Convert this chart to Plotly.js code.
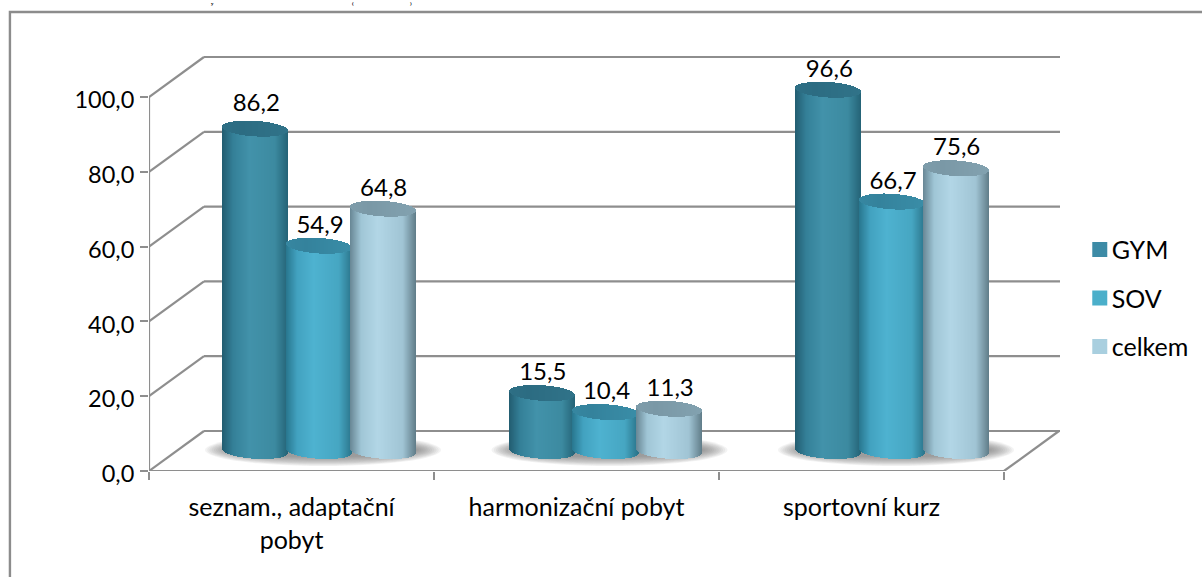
<!DOCTYPE html>
<html><head><meta charset="utf-8">
<script src="https://cdn.plot.ly/plotly-3.0.1.min.js"></script>
<style>html,body{margin:0;padding:0;background:#fff;overflow:hidden}#c{width:1202px;height:577px}</style>
</head><body><div id="c"></div>
<script>
const categories = ["seznam., adaptační<br>pobyt", "harmonizační pobyt", "sportovní kurz"];
const seriesNames = ["GYM", "SOV", "celkem"];
const gym = [86.2, 15.5, 96.6];
const sov = [54.9, 10.4, 66.7];
const celkem = [64.8, 11.3, 75.6];
const yTicks = [0, 20, 40, 60, 80, 100];
const yTickText = ["0,0", "20,0", "40,0", "60,0", "80,0", "100,0"];
const dataLabels = [["86,2","15,5","96,6"],["54,9","10,4","66,7"],["64,8","11,3","75,6"]];
const labelLift = [[24,19,19],[19,19,19],[19,19,19]];
const clusterNudge = [0, 1.5, 3];
const clippedTitle = [["y", 213], ["(", 354], [")", 413]];

const sideStops = [
  [[34,92,112],[52,128,152],[66,146,170],[60,138,160],[36,98,118]],
  [[40,118,142],[66,162,192],[78,178,208],[70,166,194],[42,116,138]],
  [[104,134,148],[160,198,214],[178,214,230],[160,196,212],[96,124,136]]
];
const capCols = [[[44,108,130],[50,118,140]],[[52,130,156],[60,146,172]],[[122,152,166],[134,166,180]]];
const legendCols = ["#3d8ba6", "#4bafca", "#a9cfdf"];

const PXX = 285, PXY = 3.74;
const plotL = 149, plotB = 471.5, plotR = 1202, plotT = 50;
const depthX = 55 / PXX, depthY = 40 / PXY;
const W = 1202, H = 577;
const all = [gym, sov, celkem];
const barW = 66 / PXX, barStep = 63.7 / PXX, rx = barW / 2, ry = 7.8 / PXY, tilt = 2 / PXY;
const baseY = depthY / 2;
const N = 66;

function lerp(a, b, t) { return a + (b - a) * t; }
function rgb(c) { return "rgb(" + c.map(Math.round).join(",") + ")"; }
function mix(a, b, t) { return a.map((v, i) => lerp(v, b[i], t)); }
function sideCol(st, t) {
  const pos = [0, 0.17, 0.42, 0.8, 1];
  for (let i = 0; i < 4; i++) if (t <= pos[i + 1]) return mix(st[i], st[i + 1], (t - pos[i]) / (pos[i + 1] - pos[i]));
  return st[4];
}
function clusterX(c) { return c + 0.5 + depthX / 2 + clusterNudge[c] / PXX; }
const traces = [];
all.forEach((vals, s) => {
  const xs = [], ys = [], bs = [], cols = [];
  vals.forEach((v, c) => {
    const cx = clusterX(c) + (s - 1) * barStep;
    for (let i = 0; i < N; i++) {
      const t = (i + 0.5) / N, u = 2 * t - 1, k = Math.sqrt(1 - u * u);
      const tl = -u * tilt;
      const bot = baseY + tl - ry * k;
      const topFront = baseY + v + tl - ry * k;
      const topBack = baseY + v + tl + ry * k;
      xs.push(cx + u * rx); bs.push(bot); ys.push(topFront - bot); cols.push(rgb(sideCol(sideStops[s], t)));
      xs.push(cx + u * rx); bs.push(topFront); ys.push(topBack - topFront); cols.push(rgb(mix(capCols[s][0], capCols[s][1], Math.abs(t - 0.3))));
    }
  });
  traces.push({type: "bar", x: xs, y: ys, base: bs, width: barW / N * 1.25, showlegend: false, hoverinfo: "skip",
    marker: {color: cols, line: {width: 0}}});
});
all.forEach((vals, s) => {
  traces.push({type: "scatter", mode: "text", showlegend: false, hoverinfo: "skip",
    x: vals.map((v, c) => clusterX(c) + (s - 1) * barStep + 1 / PXX),
    y: vals.map((v, c) => v + baseY + labelLift[s][c] / PXY),
    text: dataLabels[s], textposition: "middle center",
    textfont: {family: "Lato", size: 24, color: "#000"}, cliponaxis: false});
});
seriesNames.forEach((n, s) => {
  traces.push({type: "scatter", mode: "markers", x: [null], y: [null], name: n, legendgroup: n,
    marker: {symbol: "square", size: 15, color: legendCols[s]}});
});

const grid = "#8e8e8e";
const shapes = [];
function line(x0, y0, x1, y1, w) {
  shapes.push({type: "line", layer: "below", xref: "x", yref: "y", x0, y0, x1, y1, line: {color: grid, width: w || 2.2}});
}
const backR = (1060 - plotL) / PXX;
yTicks.forEach(v => {
  line(0, v, depthX, v + depthY);
  line(depthX, v + depthY, backR, v + depthY);
});
[0, 1, 2].forEach(c => {
  const cx = clusterX(c) + 4 / PXX;
  for (let i = 0; i < 12; i++) {
    const f = i / 11;
    const a = lerp(118, 94, f) / PXX, b = lerp(16, 7, f) / PXY;
    shapes.push({type: "circle", layer: "below", xref: "x", yref: "y",
      x0: cx - a, x1: cx + a, y0: baseY + 1 / PXY - b, y1: baseY + 1 / PXY + b,
      fillcolor: "rgba(100,100,100,0.08)", line: {width: 0}});
  }
});
line(0, 0, 0, 100);
line(0, 0, 3, 0);
line(3, 0, 3 + depthX, depthY);
const pw = plotR - plotL, ph = plotB - plotT;
shapes.push({type: "rect", xref: "paper", yref: "paper", layer: "below",
  x0: (9 - plotL) / pw, x1: (1215 - plotL) / pw,
  y0: -0.5, y1: (plotB - 12) / ph, line: {color: "#8c8c8c", width: 2.4}, fillcolor: "rgba(0,0,0,0)"});

const layout = {
  width: W, height: H, paper_bgcolor: "#fff", plot_bgcolor: "rgba(0,0,0,0)",
  margin: {l: plotL, r: W - plotR, t: plotT, b: H - plotB, pad: 0},
  barmode: "overlay", bargap: 0, hovermode: false, dragmode: false,
  font: {family: "Lato", size: 24, color: "#000"},
  xaxis: {range: [0, pw / PXX], tickmode: "array", tickvals: [0.5, 1.5, 2.5], ticktext: categories,
    ticks: "outside", ticklen: 0, tickcolor: "rgba(0,0,0,0)", showgrid: false, zeroline: false, showline: false,
    ticklabelstandoff: 14, tickfont: {family: "Lato", size: 25}, tickangle: 0, automargin: false,
    minor: {tickmode: "array", tickvals: [0, 1, 2, 3], ticks: "outside", ticklen: 8, tickwidth: 2, tickcolor: grid, showgrid: false}},
  yaxis: {range: [0, ph / PXY], tickmode: "array", tickvals: yTicks, ticktext: yTickText,
    ticks: "outside", ticklen: 8, tickwidth: 2, tickcolor: grid, showgrid: false, zeroline: false, showline: false,
    ticklabelstandoff: 1, ticklabelshift: 3, tickfont: {family: "Lato", size: 23.5}, automargin: false},
  legend: {x: (1086 - plotL) / pw, xanchor: "left", y: (plotB - 227) / ph, yanchor: "top",
    font: {family: "Lato", size: 25}, tracegroupgap: 13, bgcolor: "rgba(0,0,0,0)", itemwidth: 30,
    entrywidthmode: "pixels", entrywidth: 50},
  shapes: shapes,
  annotations: clippedTitle.map(([t, px]) => ({xref: "paper", yref: "paper", x: (px - plotL) / pw, y: (plotB - 3) / ph,
    xanchor: "center", yanchor: "middle", showarrow: false, text: "<b>" + t + "</b>",
    font: {family: "Liberation Serif", size: 5, color: "#000"}}))
};
Plotly.newPlot("c", traces, layout, {displayModeBar: false, staticPlot: true}).then(gd => {
  const f = gd._fullLayout;
  return Plotly.relayout(gd, {"xaxis.range": [0, f.xaxis._length / PXX], "yaxis.range": [0, f.yaxis._length / PXY]});
}).then(() => {
  document.querySelectorAll("#c .legendtext").forEach(el => el.setAttribute("x", +el.getAttribute("x") - 8));
});
</script></body></html>
